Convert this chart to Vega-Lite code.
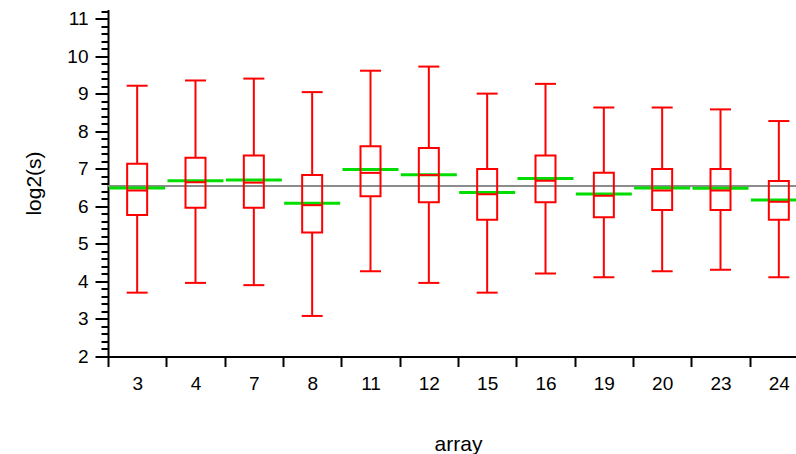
{
  "$schema": "https://vega.github.io/schema/vega-lite/v6.json",
  "width": 688,
  "height": 347,
  "autosize": {"type": "none"},
  "padding": {"left": 108, "top": 9.5, "right": 0, "bottom": 97.5},
  "background": "white",
  "config": {"view": {"stroke": null}, "font": "Liberation Sans"},
  "datasets": {
    "stats": [
      {"array": "3", "lower": 3.70, "q1": 5.77, "median": 6.42, "q3": 7.13, "upper": 9.21, "mean": 6.49},
      {"array": "4", "lower": 3.96, "q1": 5.96, "median": 6.64, "q3": 7.29, "upper": 9.35, "mean": 6.68},
      {"array": "7", "lower": 3.90, "q1": 5.96, "median": 6.63, "q3": 7.35, "upper": 9.40, "mean": 6.70},
      {"array": "8", "lower": 3.08, "q1": 5.30, "median": 6.03, "q3": 6.83, "upper": 9.04, "mean": 6.08},
      {"array": "11", "lower": 4.27, "q1": 6.27, "median": 6.89, "q3": 7.60, "upper": 9.61, "mean": 6.98},
      {"array": "12", "lower": 3.96, "q1": 6.11, "median": 6.83, "q3": 7.55, "upper": 9.72, "mean": 6.84},
      {"array": "15", "lower": 3.70, "q1": 5.64, "median": 6.32, "q3": 6.99, "upper": 9.00, "mean": 6.37},
      {"array": "16", "lower": 4.21, "q1": 6.11, "median": 6.68, "q3": 7.35, "upper": 9.26, "mean": 6.74},
      {"array": "19", "lower": 4.11, "q1": 5.71, "median": 6.28, "q3": 6.89, "upper": 8.63, "mean": 6.33},
      {"array": "20", "lower": 4.27, "q1": 5.90, "median": 6.42, "q3": 6.99, "upper": 8.63, "mean": 6.49},
      {"array": "23", "lower": 4.31, "q1": 5.90, "median": 6.42, "q3": 6.99, "upper": 8.58, "mean": 6.48},
      {"array": "24", "lower": 4.11, "q1": 5.64, "median": 6.12, "q3": 6.67, "upper": 8.27, "mean": 6.17}
    ],
    "ref": [{"overall": 6.54}]
  },
  "layer": [
    {
      "data": {"name": "ref"},
      "mark": {"type": "rule", "color": "#8c8c8c", "strokeWidth": 2},
      "encoding": {
        "y": {
          "field": "overall", "type": "quantitative", "title": "log2(s)",
          "scale": {"domain": [2, 11.24], "nice": false, "zero": false},
          "axis": {
            "values": [2,2.2,2.4,2.6,2.8,3,3.2,3.4,3.6,3.8,4,4.2,4.4,4.6,4.8,5,5.2,5.4,5.6,5.8,6,6.2,6.4,6.6,6.8,7,7.2,7.4,7.6,7.8,8,8.2,8.4,8.6,8.8,9,9.2,9.4,9.6,9.8,10,10.2,10.4,10.6,10.8,11,11.2],
            "tickCount": 100,
            "labelExpr": "abs(datum.value - round(datum.value)) < 0.01 ? toString(round(datum.value)) : ''",
            "labelOverlap": false,
            "tickSize": {"condition": {"test": "abs(datum.value - round(datum.value)) < 0.01", "value": 13}, "value": 7},
            "tickWidth": 2, "tickColor": "black",
            "domainColor": "black", "domainWidth": 2,
            "labelFontSize": 19, "labelColor": "black", "labelPadding": 7,
            "titleFontSize": 21, "titleColor": "black", "titleFontWeight": "normal", "titlePadding": 22,
            "grid": false
          }
        }
      }
    },
    {
      "data": {"name": "stats"},
      "layer": [
        {
          "mark": {"type": "tick", "color": "#00dd00", "size": 56, "thickness": 3, "opacity": 1},
          "encoding": {"y": {"field": "mean", "type": "quantitative", "title": "log2(s)"}}
        },
        {
          "mark": {"type": "rule", "color": "#ff0000", "strokeWidth": 2},
          "encoding": {"y": {"field": "lower", "type": "quantitative", "title": "log2(s)"}, "y2": {"field": "q1"}}
        },
        {
          "mark": {"type": "rule", "color": "#ff0000", "strokeWidth": 2},
          "encoding": {"y": {"field": "q3", "type": "quantitative", "title": "log2(s)"}, "y2": {"field": "upper"}}
        },
        {
          "mark": {"type": "bar", "fill": "transparent", "stroke": "#ff0000", "strokeWidth": 2, "size": 20},
          "encoding": {"y": {"field": "q1", "type": "quantitative", "title": "log2(s)"}, "y2": {"field": "q3"}}
        },
        {
          "mark": {"type": "tick", "color": "#ff0000", "size": 20, "thickness": 2, "opacity": 1},
          "encoding": {"y": {"field": "median", "type": "quantitative", "title": "log2(s)"}}
        },
        {
          "mark": {"type": "tick", "color": "#ff0000", "size": 21, "thickness": 2, "opacity": 1},
          "encoding": {"y": {"field": "lower", "type": "quantitative", "title": "log2(s)"}}
        },
        {
          "mark": {"type": "tick", "color": "#ff0000", "size": 21, "thickness": 2, "opacity": 1},
          "encoding": {"y": {"field": "upper", "type": "quantitative", "title": "log2(s)"}}
        }
      ],
      "encoding": {
        "x": {
          "field": "array", "type": "nominal", "sort": null, "title": "array",
          "scale": {"type": "band", "paddingInner": 0, "paddingOuter": 0, "range": [0, 700]},
          "axis": {
            "tickBand": "extent", "tickSize": 10, "tickWidth": 2, "tickColor": "black",
            "domainColor": "black", "domainWidth": 2,
            "labelAngle": 0, "labelFontSize": 19, "labelColor": "black", "labelPadding": 8,
            "titleFontSize": 21, "titleColor": "black", "titleFontWeight": "normal", "titlePadding": 40
          }
        }
      }
    }
  ]
}
